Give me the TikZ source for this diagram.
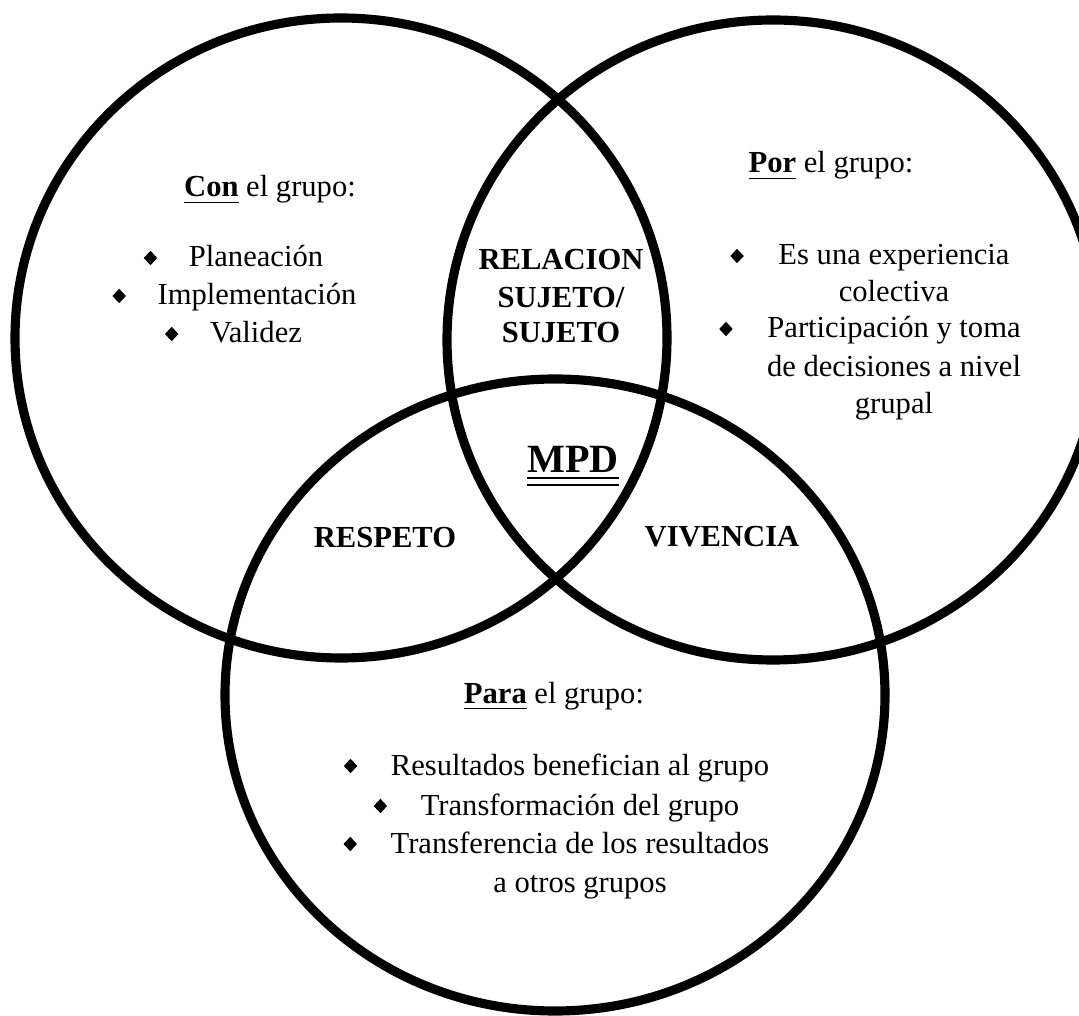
\documentclass[tikz,border=0pt]{standalone}
\usepackage{fontspec}
\setmainfont{Liberation Serif}
\usetikzlibrary{positioning,shapes.geometric}

\begin{document}
\begin{tikzpicture}[x=0.01cm,y=-0.01cm,
    ring/.style={draw, line width=2.6pt},
    txt/.style={anchor=base, inner sep=0pt, font=\fontsize{8.7}{10}\selectfont},
    tag/.style={txt, font=\fontsize{8.7}{10}\selectfont\bfseries},
    dot/.style={diamond, fill, inner sep=0pt, minimum width=0.14cm, minimum height=0.15cm}]
            \useasboundingbox (0,0) rectangle (1079,1016);
            \clip (0,0) rectangle (1079,1016);

            % Circles
            \draw[ring] (341,338) ellipse [x radius=326, y radius=320];
            \draw[ring] (773,340) ellipse [x radius=326, y radius=320];
            \draw[ring] (555,695) ellipse [x radius=330, y radius=316];

            % Con el grupo
            \node[txt] (con) at (270,197) {\underline{\textbf{Con}} el grupo:};
            \node[txt] (con1) at (256,267) {Planeación};
            \node[txt] (con2) at (257,305) {Implementación};
            \node[txt] (con3) at (256,343) {Validez};
            \node[dot, left=0.3cm of con1.base west, yshift=0.09cm] (con1d) {};
            \node[dot, left=0.3cm of con2.base west, yshift=0.09cm] (con2d) {};
            \node[dot, left=0.3cm of con3.base west, yshift=0.09cm] (con3d) {};

            % Por el grupo
            \node[txt] (por) at (831,173) {\underline{\textbf{Por}} el grupo:};
            \node[txt] (por1) at (894,265) {Es una experiencia};
            \node[txt] (por1b) at (894,302) {colectiva};
            \node[txt] (por2) at (894,338) {Participación y toma};
            \node[txt] (por2b) at (894,377) {de decisiones a nivel};
            \node[txt] (por2c) at (894,414) {grupal};
            \node[dot, left=0.33cm of por1.base west, yshift=0.09cm] (por1d) {};
            \node[dot, left=0.33cm of por2.base west, yshift=0.09cm] (por2d) {};

            % Para el grupo
            \node[txt] (para) at (554,703) {\underline{\textbf{Para}} el grupo:};
            \node[txt] (para1) at (580,775) {Resultados benefician al grupo};
            \node[txt] (para2) at (580,815) {Transformación del grupo};
            \node[txt] (para3) at (580,853) {Transferencia de los resultados};
            \node[txt] (para3b) at (580,892) {a otros grupos};
            \node[dot, left=0.32cm of para1.base west, yshift=0.09cm] (para1d) {};
            \node[dot, left=0.32cm of para2.base west, yshift=0.09cm] (para2d) {};
            \node[dot, left=0.32cm of para3.base west, yshift=0.09cm] (para3d) {};

            % Intersections
            \node[tag] (rel1) at (561,270) {RELACION};
            \node[tag] (rel2) at (561,308) {SUJETO/};
            \node[tag] (rel3) at (561,343) {SUJETO};
            \node[tag] (resp) at (385,548) {RESPETO};
            \node[tag] (viv) at (722,547) {VIVENCIA};
            \node[tag, font=\fontsize{11.4}{13}\selectfont\bfseries] (mpd) at (573,473) {\underline{\underline{MPD}}};
        \end{tikzpicture}
\end{document}
